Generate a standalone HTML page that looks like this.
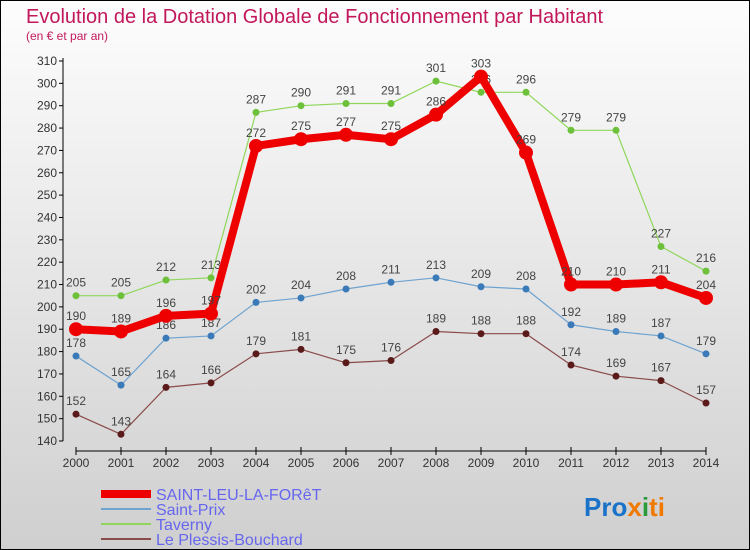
<!DOCTYPE html>
<html><head><meta charset="utf-8"><style>
body{margin:0;}
#wrap{width:748px;height:548px;border:1px solid #000;background:linear-gradient(#fdfdfd,#cfcfcf);position:relative;overflow:hidden;font-family:"Liberation Sans",sans-serif;}
</style></head><body>
<div id="wrap">
<svg id="svg" width="748" height="548" xmlns="http://www.w3.org/2000/svg">
<text x="25" y="22" font-size="20" fill="#c2185b">Evolution de la Dotation Globale de Fonctionnement par Habitant</text>
<text x="25" y="39" font-size="12" fill="#c2185b">(en € et par an)</text>
<g id="axes"></g><g id="series"></g>
<g>
<line x1="100" y1="493" x2="150" y2="493" stroke="#e00" stroke-width="8"/><text x="155" y="499" font-size="16" fill="#6666ee">SAINT-LEU-LA-FORêT</text>
<line x1="100" y1="508" x2="150" y2="508" stroke="#6fa3d0" stroke-width="2"/><text x="155" y="514" font-size="16" fill="#6666ee">Saint-Prix</text>
<line x1="100" y1="523" x2="150" y2="523" stroke="#8fd65a" stroke-width="2"/><text x="155" y="529" font-size="16" fill="#6666ee">Taverny</text>
<line x1="100" y1="538" x2="150" y2="538" stroke="#8a4a4a" stroke-width="2"/><text x="155" y="544" font-size="16" fill="#6666ee">Le Plessis-Bouchard</text>
</g>
<text x="583" y="515" font-size="26" font-weight="bold"><tspan fill="#1a73c8">Pro</tspan><tspan fill="#f07a00">x</tspan><tspan fill="#2a9a3a">i</tspan><tspan fill="#f07a00">ti</tspan></text>
</svg></div>
<script>
const years=[2000,2001,2002,2003,2004,2005,2006,2007,2008,2009,2010,2011,2012,2013,2014];
const saintLeu=[190,189,196,197,272,275,277,275,286,303,269,210,210,211,204];
const saintPrix=[178,165,186,187,202,204,208,211,213,209,208,192,189,187,179];
const taverny=[205,205,212,213,287,290,291,291,301,296,296,279,279,227,216];
const plessis=[152,143,164,166,179,181,175,176,189,188,188,174,169,167,157];
const yTicks=[140,150,160,170,180,190,200,210,220,230,240,250,260,270,280,290,300,310];
const NS="http://www.w3.org/2000/svg";
const x=i=>75+i*(705-75)/14;
const y=v=>440-(v-140)*(380/170);
function mk(t,a,p){const e=document.createElementNS(NS,t);for(const k in a)e.setAttribute(k,a[k]);p.appendChild(e);return e;}
const ax=document.getElementById('axes');
const yl=mk('line',{x1:62,y1:57,x2:62,y2:440,stroke:'#000'},ax);


yTicks.forEach(v=>{mk('line',{x1:58,y1:y(v),x2:62,y2:y(v),stroke:'#000'},ax);
const t=mk('text',{x:56,y:y(v)+4,'font-size':12,fill:'#333','text-anchor':'end'},ax);t.textContent=v;

});
const xl=mk('line',{x1:75,y1:450,x2:705,y2:450,stroke:'#000'},ax);


years.forEach((yr,i)=>{mk('line',{x1:x(i),y1:446,x2:x(i),y2:454,stroke:'#000'},ax);
const t=mk('text',{x:x(i),y:466,'font-size':12,fill:'#333','text-anchor':'middle'},ax);t.textContent=yr;

});
const sg=document.getElementById('series');
function draw(data,color,w,r,name,ptColor){
const g=mk('g',{},sg);


mk('polyline',{points:data.map((v,i)=>x(i)+','+y(v)).join(' '),fill:'none',stroke:color,'stroke-width':w,'stroke-linejoin':'round'},g);
data.forEach((v,i)=>{const c=mk('circle',{cx:x(i),cy:y(v),r:r,fill:ptColor},g);


const t=mk('text',{x:x(i),y:y(v)-9,'font-size':12,fill:'#444','text-anchor':'middle'},g);t.textContent=v;

});}
draw(plessis,'#8a4a4a',1.2,3.5,'series-le-plessis','#5a1a1a');
draw(saintPrix,'#6fa3d0',1.2,3.5,'series-saint-prix','#3a7ab8');
draw(taverny,'#8fd65a',1.2,3.5,'series-taverny','#6cc03a');
draw(saintLeu,'#ee0000',8,7,'series-saint-leu','#ee0000');
</script>
</body></html>
